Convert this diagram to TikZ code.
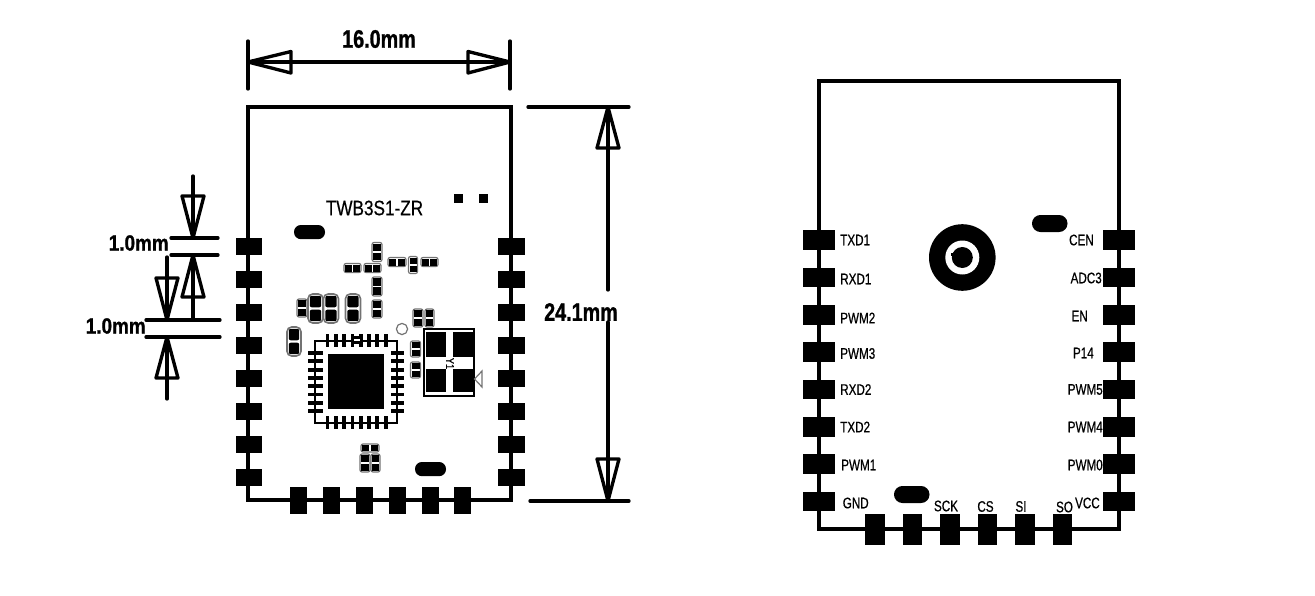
\documentclass[tikz,border=0pt]{standalone}
\usepackage{fontspec}
\setmainfont{Liberation Sans}
\newfontfamily\pinf{Liberation Sans}[FakeStretch=0.76,FakeBold=0.6]
\newfontfamily\titf{Liberation Sans}[FakeStretch=0.82,FakeBold=0.5]
\newfontfamily\dimf{Liberation Sans}[FakeStretch=0.78,FakeBold=1.0]
\newfontfamily\dimg{Liberation Sans}[FakeStretch=0.86,FakeBold=1.0]
\definecolor{compgray}{gray}{0.45}
\tikzset{
  outline/.style={line width=2.9pt,draw=black,line cap=round,line join=miter},
  dimln/.style={line width=2.5pt,draw=black,line cap=round,line join=round},
  pad/.style={fill=black},
  pinl/.style={inner sep=0pt,font=\pinf\fontsize{11.5}{12}\selectfont},
  diml/.style={inner sep=0pt,font=\dimf\bfseries\fontsize{19}{20}\selectfont},
  dimm/.style={inner sep=0pt,font=\dimg\bfseries\fontsize{16.5}{18}\selectfont},
  thinc/.style={line width=0.9pt,draw=compgray},
}
% vertical two-block part: centre x, centre y, width, height
\newcommand\smdv[4]{%
  \draw[thinc,rounded corners=1.5pt] ({#1-#3/2},{#2-#4/2}) rectangle ({#1+#3/2},{#2+#4/2});
  \fill ({#1-#3/2+1},{#2-#4/2+1.2}) rectangle ({#1+#3/2-1},{#2-0.8});
  \fill ({#1-#3/2+1},{#2+0.8}) rectangle ({#1+#3/2-1},{#2+#4/2-1.2});
}
% horizontal two-block part
\newcommand\smdh[4]{%
  \draw[thinc,rounded corners=1.5pt] ({#1-#3/2},{#2-#4/2}) rectangle ({#1+#3/2},{#2+#4/2});
  \fill ({#1-#3/2+1.2},{#2-#4/2+1}) rectangle ({#1-0.8},{#2+#4/2-1});
  \fill ({#1+0.8},{#2-#4/2+1}) rectangle ({#1+#3/2-1.2},{#2+#4/2-1});
}
% large rounded capacitor
\newcommand\capv[4]{%
  \draw[line width=1.2pt,draw=compgray,rounded corners=3.5pt] ({#1-#3/2},{#2-#4/2}) rectangle ({#1+#3/2},{#2+#4/2});
  \fill[rounded corners=1.5pt] ({#1-#3/2+1.8},{#2-#4/2+1.8}) rectangle ({#1+#3/2-1.8},{#2-1.2});
  \fill[rounded corners=1.5pt] ({#1-#3/2+1.8},{#2+1.2}) rectangle ({#1+#3/2-1.8},{#2+#4/2-1.8});
}
\begin{document}
\begin{tikzpicture}[x=0.75pt,y=-0.75pt]
\useasboundingbox (0,0) rectangle (1315,596);
% ---------- left module ----------
\draw[outline] (248,500) -- (248,107) -- (511,107) -- (511,500) -- cycle;
\foreach \y in {246.5,279.5,312.5,345,378,411,444,477}{
  \fill[pad] (235.5,{\y-8.5}) rectangle (262,{\y+8.5});
  \fill[pad] (498,{\y-8.5}) rectangle (524.5,{\y+8.5});
}
\foreach \x in {298,331,364,397,430,462}{
  \fill[pad] ({\x-8.5},487) rectangle ({\x+8.5},514);
}
\node[inner sep=0pt,font=\titf\fontsize{15.7}{17}\selectfont] (title) at (374.5,208) {TWB3S1-ZR};
\fill (454,194) rectangle (462.5,203);
\fill (479,194) rectangle (488,203);
\fill[rounded corners=5.2pt] (294,225) rectangle (325,239.2);
\fill[rounded corners=5.2pt] (415,462) rectangle (446,476.2);
% small parts
\smdv{377}{252}{10}{19}
\smdh{352.5}{268}{17}{9}
\smdh{372.5}{268}{17}{9}
\smdh{397}{262}{18}{9}
\smdv{413}{265}{9}{17}
\smdh{429.5}{262}{17}{9}
\smdv{377}{286.5}{10}{19}
\smdv{302}{308}{10}{18}
\capv{315.5}{308.5}{15}{29}
\capv{331}{308.5}{15}{29}
\capv{353}{308.5}{15}{29}
\smdv{377}{309}{10}{18}
\capv{294}{341.5}{14}{29}
\smdv{418}{318}{10}{18}
\smdv{429.5}{318}{9}{18}
\smdv{415.5}{349}{10}{16}
\smdv{415.5}{370}{10}{16}
\smdh{370}{448}{18}{8}
\smdv{365}{463}{10}{18}
\smdv{375.5}{463}{9}{18}
% chip
\draw[line width=1.8pt] (315,341) rectangle (397,423);
\fill (328,354) rectangle (384,409);
\foreach \i in {0,...,7}{
  \fill ({327.5+8.3*\i-1.9},334) rectangle ({327.5+8.3*\i+1.9},347);
  \fill ({327.5+8.3*\i-1.9},416) rectangle ({327.5+8.3*\i+1.9},429);
  \fill (308,{353+8.3*\i-1.9}) rectangle (323,{353+8.3*\i+1.9});
  \fill (391,{353+8.3*\i-1.9}) rectangle (404,{353+8.3*\i+1.9});
}
\fill (352,336) rectangle (362,344);
\fill[white] (354,339.4) rectangle (360,340.6);
\draw[thinc] (402,329) circle (5.6);
% crystal Y1
\draw[line width=1.9pt] (424,329) rectangle (474,396);
\fill (426,332) rectangle (446,357);
\fill (453,332) rectangle (473,357);
\fill (426,369) rectangle (446,392);
\fill (453,369) rectangle (473,392);
\node[inner sep=0pt,rotate=-90,font=\titf\fontsize{8.5}{9}\selectfont] (y1) at (450,363.5) {Y1};
\draw[thinc] (474.5,379) -- (482,371) -- (482,387) -- cycle;
% ---------- dimensions ----------
% 16.0mm
\coordinate (wa) at (248,62);
\coordinate (wb) at (510,62);
\draw[dimln] (248,41) -- (248,89);
\draw[dimln] (510,41) -- (510,89);
\draw[dimln] (wa) -- (wb);
\draw[dimln] (wa) -- (291,51.5) -- (291,73) -- cycle;
\draw[dimln] (wb) -- (468,51.5) -- (468,73) -- cycle;
\node[diml] (w) at (379,39) {16.0mm};
% 24.1mm
\coordinate (ha) at (608,107);
\coordinate (hb) at (608,501);
\node[diml] (h) at (581,312) {24.1mm};
\draw[dimln] (528,107) -- (629,107);
\draw[dimln] (530,501) -- (629,501);
\draw[dimln] (ha) -- (608,290);
\draw[dimln] (608,322) -- (hb);
\draw[dimln] (ha) -- (597,148) -- (619,148) -- cycle;
\draw[dimln] (hb) -- (597,459) -- (619,459) -- cycle;
% 1.0mm pads
\draw[dimln] (171,238) -- (218,238);
\draw[dimln] (171,255) -- (218,255);
\draw[dimln] (146,320) -- (220,320);
\draw[dimln] (146,337) -- (220,337);
\draw[dimln] (193,176) -- (193,238);
\draw[dimln] (193,238) -- (182,196) -- (204,196) -- cycle;
\draw[dimln] (193,255) -- (193,320);
\draw[dimln] (193,255) -- (182,297) -- (204,297) -- cycle;
\draw[dimln] (167,257) -- (167,320);
\draw[dimln] (167,320) -- (156,278) -- (178,278) -- cycle;
\draw[dimln] (167,337) -- (167,399);
\draw[dimln] (167,337) -- (156,378) -- (178,378) -- cycle;
\node[dimm,anchor=east] (m1) at (169,243) {1.0mm};
\node[dimm,anchor=east] (m2) at (146,326) {1.0mm};
% ---------- right module ----------
\draw[outline] (819,529) -- (819,81) -- (1119,81) -- (1119,529) -- cycle;
\foreach \y in {240,277.5,315,352,389.5,427,464,501.5}{
  \fill[pad] (803,{\y-9.7}) rectangle (834.5,{\y+9.7});
  \fill[pad] (1103,{\y-9.7}) rectangle (1134.5,{\y+9.7});
}
\foreach \x in {875,912.5,950,987.5,1025,1062.5}{
  \fill[pad] ({\x-9.7},514) rectangle ({\x+9.7},545);
}
\fill[rounded corners=6.3pt] (1032,215) rectangle (1067.5,232);
\fill[rounded corners=6.3pt] (894,486) rectangle (929.5,503);
\fill (962.3,257.5) circle (33.3);
\fill[white] (962.3,257.5) circle (17);
\fill (962.3,257.5) circle (10.5);
\fill (950.5,253) rectangle (953.5,256);
% pin labels
\node[pinl,anchor=west] (txd1) at (840,240) {TXD1};
\node[pinl,anchor=west] (rxd1) at (840,279) {RXD1};
\node[pinl,anchor=west] (pwm2) at (840,318) {PWM2};
\node[pinl,anchor=west] (pwm3) at (840,353.5) {PWM3};
\node[pinl,anchor=west] (rxd2) at (840,389.5) {RXD2};
\node[pinl,anchor=west] (txd2) at (840,427) {TXD2};
\node[pinl,anchor=west] (pwm1) at (841,465) {PWM1};
\node[pinl,anchor=west] (gnd) at (842.5,503) {GND};
\node[pinl,anchor=east] (cen) at (1094,240) {CEN};
\node[pinl,anchor=east] (adc3) at (1102,278) {ADC3};
\node[pinl,anchor=east] (en) at (1088,316) {EN};
\node[pinl,anchor=east] (p14) at (1094,353) {P14};
\node[pinl,anchor=east] (pwm5) at (1103,389.5) {PWM5};
\node[pinl,anchor=east] (pwm4) at (1103,427) {PWM4};
\node[pinl,anchor=east] (pwm0) at (1103,465) {PWM0};
\node[pinl,anchor=east] (vcc) at (1100,503) {VCC};
\node[pinl] (sck) at (946,506) {SCK};
\node[pinl] (cs) at (985.5,506.5) {CS};
\node[pinl] (si) at (1021,506.5) {SI};
\node[pinl] (so) at (1064.5,507) {SO};
\end{tikzpicture}
\end{document}
